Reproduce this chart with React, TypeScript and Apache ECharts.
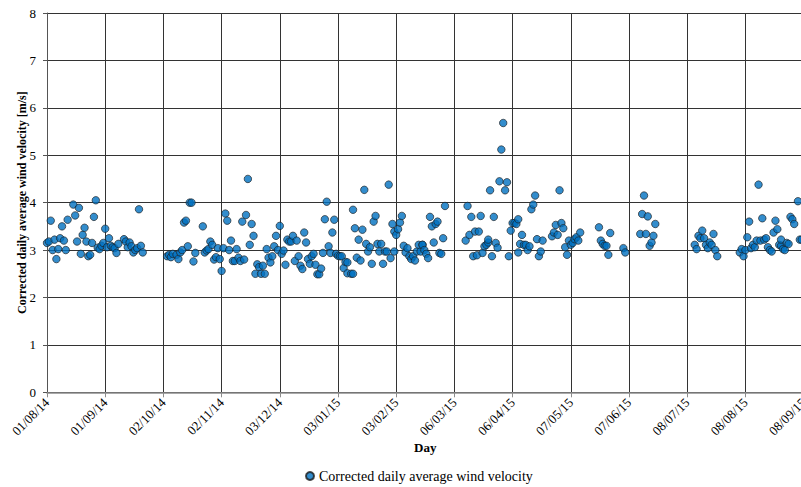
import React, { useEffect, useRef } from "react";
import * as echarts from "echarts";

// Days counted from 01/08/2014, one reading per day
const START_UTC = Date.UTC(2014, 7, 1);

const dayOffsets: number[] = [
  // Aug – Sep 2014
  0, 1, 2, 3, 4, 5, 6, 7, 8, 9, 10, 11, 14, 15, 16, 17, 18, 19, 20, 21, 22, 23, 24, 25,
  26, 27, 28, 29, 30, 31, 32, 33, 34, 35, 36, 37, 38, 41, 42, 43, 44, 45, 46, 47, 48, 49, 50, 51,
  // Oct – Dec 2014
  64, 65, 66, 67, 69, 70, 71, 72, 73, 74, 75, 76, 77, 78, 79, 83, 84, 85, 86, 87, 88, 89, 90, 91,
  92, 93, 94, 95, 96, 97, 98, 99, 100, 101, 102, 103, 104, 105, 106, 107, 108, 109, 110, 111,
  112, 113, 114, 115, 116, 117, 118, 119, 120, 121, 122, 123, 124, 125, 126, 127, 128,
  // Dec 2014 – Feb 2015
  129, 130, 131, 132, 133, 134, 135, 136, 137, 138, 139, 140, 141, 142, 143, 144, 145, 146, 147,
  148, 149, 150, 151, 152, 153, 154, 155, 156, 157, 158, 159, 160, 160, 162, 163, 163, 164, 165,
  166, 167, 168, 169, 170, 171, 172, 173, 174, 175, 176, 177, 178, 179, 180, 181, 182, 183, 184,
  185, 185, 186, 187, 188, 189, 190, 191,
  // Feb – Mar 2015
  192, 193, 194, 195, 196, 197, 198, 199, 200, 200, 201, 202, 203, 204, 205, 206, 207, 208, 209,
  210, 211, 212,
  // Mar – Apr 2015
  223, 224, 225, 226, 227, 228, 229, 230, 231, 232, 233, 234, 235, 235, 236, 237, 238, 239, 240,
  241, 242, 243, 244, 245, 246, 247, 248, 249, 250, 251, 251, 252, 253, 254, 255, 256, 257, 258,
  259, 260, 261, 262,
  // Apr – Jun 2015
  263, 264, 269, 270, 271, 272, 273, 274, 275, 276, 277, 278, 279, 280, 281, 282, 283, 284, 294,
  295, 296, 297, 298, 299, 300, 307, 308, 316, 317, 318, 319, 320, 321, 322, 323, 324,
  // Jul – Sep 2015
  345, 346, 347, 348, 349, 350, 351, 352, 353, 354, 355, 356, 357, 369, 370, 371, 372, 373, 374,
  375, 376, 377, 378, 379, 380, 381, 382, 383, 384, 385, 386, 387, 388, 389, 390, 391, 391, 392,
  393, 394, 395, 396, 397, 398, 400, 401, 402,
];

// Corrected daily average wind velocity [m/s]
const windVelocity: number[] = [
  3.15, 3.18, 3.62, 3.0, 3.22, 2.81, 3.02, 3.25, 3.5, 3.2, 3.0, 3.64, 3.96, 3.73, 3.18, 3.89,
  2.92, 3.32, 3.47, 3.18, 2.87, 2.9, 3.15, 3.7, 4.05, 3.05, 3.02, 3.09, 3.15, 3.45, 3.06, 3.25,
  3.09, 3.06, 3.04, 2.94, 3.13, 3.23, 3.18, 3.06, 3.16, 3.08, 2.95, 3.0, 3.04, 3.86, 3.09, 2.95,

  2.87, 2.9, 2.85, 2.92, 2.9, 2.81, 2.95, 3.0, 3.58, 3.62, 3.08, 4.0, 4.0, 2.76, 2.94, 3.5,
  2.95, 2.99, 3.02, 3.18, 3.11, 2.8, 2.85, 3.04, 2.81, 2.56, 3.04, 3.77, 3.62, 3.0, 3.2, 2.77,
  2.77, 3.02, 2.84, 2.77, 3.6, 2.8, 3.74, 4.5, 3.11, 3.55, 3.3, 2.5, 2.7, 2.64, 2.5, 2.67,
  2.5, 3.02, 2.84, 2.74, 2.87, 3.08, 3.3, 3.0, 3.51, 2.92, 2.99, 2.69, 3.22,

  3.18, 3.18, 3.3, 2.77, 3.2, 2.87, 2.67, 2.6, 3.37, 3.16, 2.81, 2.71, 2.87, 2.92, 2.69, 2.49,
  2.49, 2.61, 2.94, 3.65, 4.02, 3.08, 2.94, 3.37, 3.64, 2.92, 2.88, 2.87, 2.87, 2.62, 2.75, 2.51,
  2.74, 2.5, 2.5, 3.85, 3.46, 2.84, 3.22, 2.78, 3.43, 4.27, 3.13, 2.97, 3.06, 2.71, 3.6, 3.72,
  3.13, 2.97, 3.13, 2.71, 2.97, 2.97, 4.38, 2.83, 3.55, 2.97, 3.39, 3.32, 3.44, 3.58, 3.72, 3.09,
  2.95,

  3.04, 2.87, 2.81, 2.87, 2.78, 2.97, 3.11, 2.97, 3.11, 3.11, 3.0, 2.92, 2.83, 3.7, 3.5, 3.16,
  3.55, 3.6, 2.94, 2.92, 3.25, 3.93,

  3.2, 3.93, 3.32, 3.7, 2.87, 3.39, 2.89, 3.39, 3.72, 2.94, 3.08, 3.11, 3.16, 3.22, 4.26, 2.87,
  3.7, 3.15, 3.05, 4.45, 5.12, 5.68, 4.26, 4.43, 2.87, 3.41, 3.57, 3.57, 3.55, 2.95, 3.65, 3.13,
  3.32, 3.11, 3.11, 3.0, 3.08, 3.86, 3.96, 4.15, 3.23, 2.87,

  2.97, 3.2, 3.29, 3.37, 3.53, 3.32, 4.26, 3.57, 3.46, 3.06, 2.9, 3.2, 3.11, 3.15, 3.23, 3.27,
  3.2, 3.37, 3.48, 3.2, 3.13, 3.09, 3.09, 2.9, 3.36, 3.04, 2.95, 3.34, 3.76, 4.15, 3.34, 3.71,
  3.09, 3.16, 3.3, 3.55,

  3.11, 3.02, 3.3, 3.25, 3.41, 3.25, 3.11, 3.04, 3.16, 3.11, 3.34, 3.0, 2.87, 2.95, 3.02, 2.87,
  3.0, 3.27, 3.6, 3.04, 3.11, 3.06, 3.2, 4.38, 3.2, 3.67, 3.22, 3.25, 3.06, 3.0, 2.97, 3.37,
  3.62, 3.44, 3.11, 3.09, 3.22, 3.02, 3.0, 3.15, 3.13, 3.7, 3.65, 3.55, 4.03, 3.22, 3.22,
];

// Axis spans 13 steps of 31 days: 01/08/14 … 08/09/15
const X_STEP_DAYS = 31;
const X_MAX_DAYS = 13 * X_STEP_DAYS;
const Y_MIN = 0;
const Y_MAX = 8;

const SERIF = "Liberation Serif";

function formatDay(offset: number): string {
  const d = new Date(START_UTC + offset * 86400000);
  const dd = String(d.getUTCDate()).padStart(2, "0");
  const mm = String(d.getUTCMonth() + 1).padStart(2, "0");
  const yy = String(d.getUTCFullYear() % 100).padStart(2, "0");
  return `${dd}/${mm}/${yy}`;
}

export default function App() {
  const ref = useRef<HTMLDivElement>(null);

  useEffect(() => {
    if (!ref.current) return;
    const chart = echarts.init(ref.current, undefined, { renderer: "svg" });
    const points = dayOffsets.map((d, i) => [d, windVelocity[i]]);

    chart.setOption({
      animation: false,
      backgroundColor: "#ffffff",
      textStyle: { fontFamily: SERIF, color: "#000" },
      grid: { left: 47, top: 13, width: 756.6, height: 379.3 },
      legend: {
        left: 300,
        top: 464,
        icon: "circle",
        itemWidth: 8,
        itemHeight: 8,
        textStyle: { fontFamily: SERIF, fontSize: 14, color: "#000" },
        data: ["Corrected daily average wind velocity"],
      },
      xAxis: {
        type: "value",
        min: 0,
        max: X_MAX_DAYS,
        interval: X_STEP_DAYS,
        name: "Day",
        nameLocation: "middle",
        nameGap: 49,
        nameMoveOverlap: false,
        nameTextStyle: { fontFamily: SERIF, fontSize: 13, fontWeight: "bold", color: "#000" },
        axisLine: { show: true, onZero: false, lineStyle: { color: "#8c8c8c", width: 1.5 } },
        axisTick: { show: true, length: 5, lineStyle: { color: "#8c8c8c" } },
        axisLabel: {
          rotate: 45,
          margin: 8,
          fontFamily: SERIF,
          fontSize: 13,
          color: "#000",
          showMaxLabel: true,
          formatter: (v: number) => formatDay(v),
        },
        splitLine: { show: true, lineStyle: { color: "#333", width: 1 } },
      },
      yAxis: {
        type: "value",
        min: Y_MIN,
        max: Y_MAX,
        interval: 1,
        name: "Corrected daily average wind velocity [m/s]",
        nameLocation: "middle",
        nameRotate: 90,
        nameGap: 19,
        nameMoveOverlap: false,
        nameTextStyle: { fontFamily: SERIF, fontSize: 12, fontWeight: "bold", color: "#000" },
        axisLine: { show: true, lineStyle: { color: "#555", width: 1 } },
        axisTick: { show: true, length: 4, lineStyle: { color: "#555" } },
        axisLabel: { margin: 11, fontFamily: SERIF, fontSize: 13, color: "#000" },
        splitLine: { show: true, lineStyle: { color: "#333", width: 1 } },
      },
      series: [
        {
          name: "Corrected daily average wind velocity",
          type: "scatter",
          symbol: "circle",
          symbolSize: 7.5,
          data: points,
          itemStyle: { color: "#0070c0", borderColor: "#1a1a1a", borderWidth: 0.8 },
        },
      ],
    });

    return () => chart.dispose();
  }, []);

  // The plot runs a few pixels past the right edge, so the chart is wider than its frame
  return (
    <div
      style={{
        position: "fixed",
        left: 0,
        top: 0,
        width: 801,
        height: 487,
        overflow: "hidden",
        background: "#fff",
      }}
    >
      <div ref={ref} style={{ width: 812, height: 487 }} />
    </div>
  );
}
